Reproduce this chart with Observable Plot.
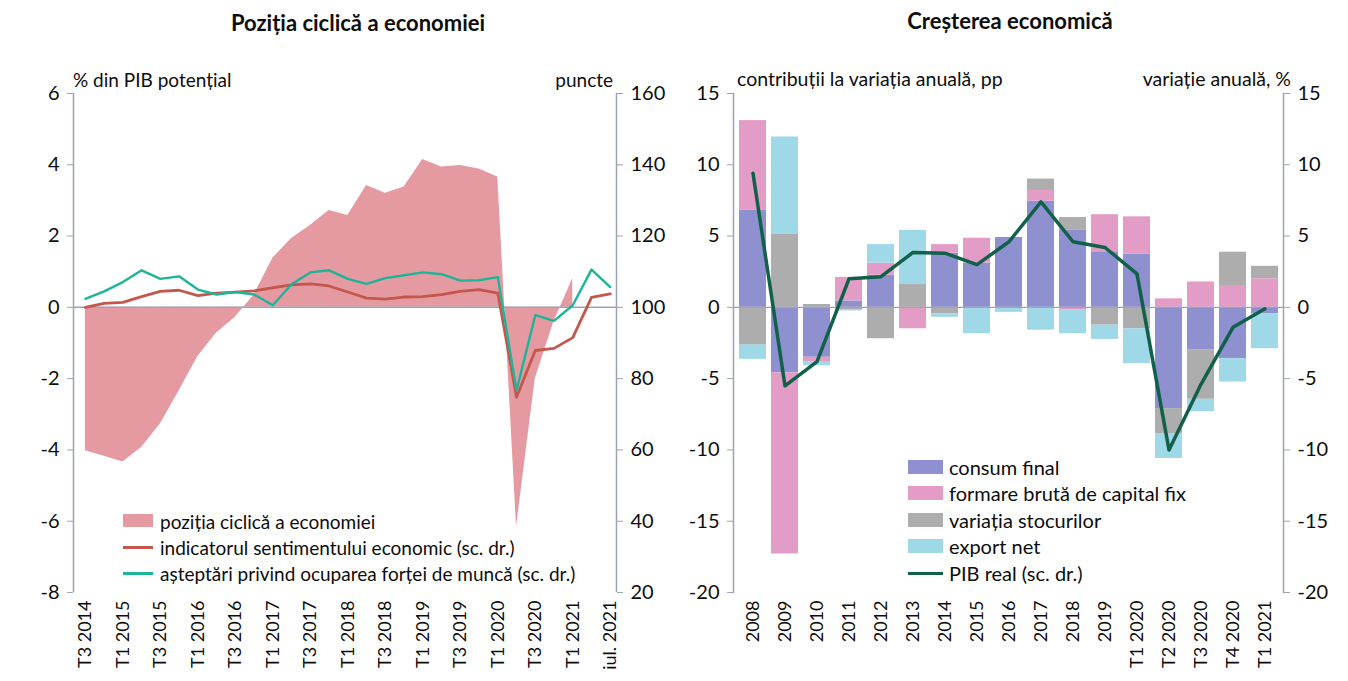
<!DOCTYPE html>
<html>
<head>
<meta charset="utf-8">
<script src="https://cdn.jsdelivr.net/npm/d3@7"></script>
<script src="https://cdn.jsdelivr.net/npm/@observablehq/plot@0.6"></script>
<style>
  body { margin: 0; background: #fff; font-family: Lato, "Open Sans", sans-serif; color: #111; }
  #wrap { position: relative; width: 1348px; height: 681px; overflow: hidden; background: #fff; }
  .abs { position: absolute; white-space: nowrap; line-height: 1; }
  .chart { position: absolute; top: 0; }
  .sw { position: absolute; }
</style>
</head>
<body>
<div id="wrap"></div>
<script>
// ---------- LEFT CHART DATA ----------
// months since July 2014 (T3 2014 = 0)
const leftTickMonths = [0, 6, 12, 18, 24, 30, 36, 42, 48, 54, 60, 66, 72, 78, 84];
const leftTickLabels = ["T3 2014","T1 2015","T3 2015","T1 2016","T3 2016","T1 2017","T3 2017","T1 2018","T3 2018","T1 2019","T3 2019","T1 2020","T3 2020","T1 2021","iul. 2021"];

// pozitia ciclica a economiei (% din PIB potential)
const gapMonths = [0, 3, 6, 9, 12, 15, 18, 21, 24, 27, 30, 33, 36, 39, 42, 45, 48, 51, 54, 57, 60, 63, 66, 69, 72, 75, 78];
const gapValues = [-4.02, -4.18, -4.34, -3.93, -3.27, -2.35, -1.38, -0.72, -0.28, 0.35, 1.38, 1.93, 2.3, 2.72, 2.58, 3.42, 3.2, 3.38, 4.15, 3.94, 3.98, 3.88, 3.66, -6.16, -2.0, -0.4, 0.8];

// lines on the right scale (puncte)
const lineMonths = [0, 3, 6, 9, 12, 15, 18, 21, 24, 27, 30, 33, 36, 39, 42, 45, 48, 51, 54, 57, 60, 63, 66, 69, 72, 75, 78, 81, 84];
const esiValues = [100.0, 101.1, 101.4, 103.0, 104.5, 104.8, 103.3, 104.0, 104.3, 104.6, 105.5, 106.3, 106.6, 106.0, 104.3, 102.6, 102.3, 102.9, 103.0, 103.6, 104.5, 105.0, 104.0, 74.8, 87.9, 88.5, 91.5, 102.8, 103.8];
const employmentValues = [102.4, 104.5, 107.1, 110.4, 108.0, 108.7, 105.0, 103.6, 104.3, 103.6, 100.6, 106.5, 109.8, 110.4, 108.0, 106.6, 108.2, 109.0, 109.8, 109.3, 107.5, 107.6, 108.5, 76.7, 97.8, 96.2, 100.6, 110.6, 105.7];

const leftYTicks = [-8, -6, -4, -2, 0, 2, 4, 6];

// ---------- RIGHT CHART DATA ----------
const categories = ["2008","2009","2010","2011","2012","2013","2014","2015","2016","2017","2018","2019","T1 2020","T2 2020","T3 2020","T4 2020","T1 2021"];
const seriesNames = ["consum final", "formare brută de capital fix", "variația stocurilor", "export net"];
const consumFinal = [6.8, -4.6, -3.5, 0.45, 2.25, 0.0, 3.8, 3.1, 4.9, 7.45, 5.4, 3.9, 3.75, -7.1, -3.0, -3.6, -0.45];
const formareBruta = [6.3, -12.7, -0.3, 1.65, 0.85, -1.5, 0.6, 1.75, 0.0, 0.75, -0.2, 2.6, 2.6, 0.6, 1.78, 1.47, 2.0];
const variatiaStocurilor = [-2.65, 5.15, 0.2, -0.2, -2.2, 1.6, -0.45, -0.05, -0.05, 0.8, 0.9, -1.25, -1.5, -1.75, -3.45, 2.4, 0.88];
const exportNet = [-1.0, 6.8, -0.3, -0.05, 1.3, 3.8, -0.25, -1.8, -0.3, -1.6, -1.65, -1.0, -2.45, -1.75, -0.87, -1.64, -2.45];
const pibReal = [9.4, -5.5, -3.8, 2.0, 2.15, 3.85, 3.8, 3.0, 4.6, 7.4, 4.6, 4.2, 2.35, -10.0, -5.4, -1.4, -0.1];
const rightYTicks = [-20, -15, -10, -5, 0, 5, 10, 15];

// ---------- STYLES ----------
const C = {
  area: "#e59aa2", esi: "#c4574c", emp: "#1db597",
  consum: "#8f90cf", formare: "#e39cc6", stoc: "#adadad", export: "#9fd8e7",
  pib: "#10604a", axis: "#9ba4b6", text: "#0d0d0d"
};
const FONT = "Lato, 'Open Sans', sans-serif";
const TICK_FS = 20;

const wrap = document.getElementById("wrap");

function label(text, x, y, opts = {}) {
  const d = document.createElement("div");
  d.className = "abs";
  d.textContent = text;
  d.style.left = x + "px";
  d.style.top = y + "px";
  d.style.fontSize = (opts.size || 17) + "px";
  d.style.fontWeight = opts.weight || "normal";
  d.style.color = C.text;
  const ax = opts.anchor === "middle" ? "-50%" : opts.anchor === "end" ? "-100%" : "0";
  d.style.transform = `translate(${ax}, -50%)`;
  wrap.appendChild(d);
  return d;
}
function swatch(x, y, w, h, color) {
  const d = document.createElement("div");
  d.className = "sw";
  d.style.left = x + "px"; d.style.top = y + "px";
  d.style.width = w + "px"; d.style.height = h + "px";
  d.style.background = color;
  wrap.appendChild(d);
}
const fmt = d => String(d);

// ---------- LEFT PLOT ----------
const gapData = gapMonths.map((m, i) => ({m, v: gapValues[i]}));
const esiData = lineMonths.map((m, i) => ({m, v: esiValues[i]}));
const empData = lineMonths.map((m, i) => ({m, v: employmentValues[i]}));
const toLeft = v => (v - 100) / 10;
const xDomL = [-1.9, 85];
const tickLabelMap = new Map(leftTickMonths.map((m, i) => [m, leftTickLabels[i]]));

const left = Plot.plot({
  width: 680, height: 681,
  marginLeft: 73, marginRight: 64, marginTop: 93, marginBottom: 89,
  style: {fontFamily: FONT, fontSize: "18px", background: "transparent", color: C.text},
  x: {domain: xDomL, axis: null},
  y: {domain: [-8, 6], axis: null},
  marks: [
    Plot.areaY(gapData, {x: "m", y: "v", fill: C.area, curve: "linear"}),
    Plot.ruleY([0], {stroke: C.axis, strokeWidth: 1.5}),
    Plot.lineY(esiData, {x: "m", y: d => toLeft(d.v), stroke: C.esi, strokeWidth: 2.8}),
    Plot.lineY(empData, {x: "m", y: d => toLeft(d.v), stroke: C.emp, strokeWidth: 2.4}),
    Plot.ruleX([xDomL[0], xDomL[1]], {stroke: C.axis, strokeWidth: 1.5}),
    Plot.axisY({anchor: "left", ticks: leftYTicks, tickFormat: fmt, tickSize: 6, tickPadding: 8, stroke: C.axis, fill: C.text, fontSize: TICK_FS, label: null}),
    Plot.axisY({anchor: "right", ticks: leftYTicks, tickFormat: d => String(100 + d * 10), tickSize: 6, tickPadding: 8, stroke: C.axis, fill: C.text, fontSize: TICK_FS, label: null}),
    Plot.axisX({ticks: leftTickMonths, tickFormat: d => tickLabelMap.get(d), tickRotate: -90, tickSize: 0, tickPadding: 8, fill: C.text, fontSize: 18, label: null})
  ]
});
left.classList.add("chart");
left.style.left = "0px";
wrap.appendChild(left);

// ---------- RIGHT PLOT ----------
const seriesValues = [consumFinal, formareBruta, variatiaStocurilor, exportNet];
const rows = [];
seriesNames.forEach((s, si) => categories.forEach((c, i) => rows.push({cat: c, series: s, value: seriesValues[si][i]})));
const pibData = categories.map((c, i) => ({cat: c, v: pibReal[i]}));

const right = Plot.plot({
  width: 688, height: 681,
  marginLeft: 73, marginRight: 65, marginTop: 93, marginBottom: 89,
  style: {fontFamily: FONT, fontSize: "18px", background: "transparent", color: C.text},
  x: {domain: categories, paddingInner: 0.16, paddingOuter: 0.17, axis: null},
  y: {domain: [-20, 15], axis: null},
  color: {domain: seriesNames, range: [C.consum, C.formare, C.stoc, C.export]},
  marks: [
    Plot.barY(rows, {x: "cat", y: "value", fill: "series", z: "series", order: seriesNames}),
    Plot.ruleY([0], {stroke: C.axis, strokeWidth: 1.3}),
    Plot.lineY(pibData, {x: "cat", y: "v", stroke: C.pib, strokeWidth: 3.5}),
    Plot.frame({anchor: "left", stroke: C.axis, strokeWidth: 1.5}),
    Plot.frame({anchor: "right", stroke: C.axis, strokeWidth: 1.5}),
    Plot.axisY({anchor: "left", ticks: rightYTicks, tickFormat: fmt, tickSize: 6, tickPadding: 8, stroke: C.axis, fill: C.text, fontSize: TICK_FS, label: null}),
    Plot.axisY({anchor: "right", ticks: rightYTicks, tickFormat: fmt, tickSize: 6, tickPadding: 8, stroke: C.axis, fill: C.text, fontSize: TICK_FS, label: null}),
    Plot.axisX({tickRotate: -90, tickSize: 0, tickPadding: 8, fill: C.text, fontSize: 18, label: null})
  ]
});
right.classList.add("chart");
right.style.left = "660px";
wrap.appendChild(right);

// ---------- TEXTS ----------
label("Poziția ciclică a economiei", 358, 23, {anchor: "middle", size: 22, weight: "bold"});
label("Creșterea economică", 1010, 21, {anchor: "middle", size: 22, weight: "bold"});
label("% din PIB potențial", 73, 79, {size: 19});
label("puncte", 613, 79, {anchor: "end", size: 19});
label("contribuții  la variația anuală, pp", 737, 79, {size: 19.5});
label("variație anuală, %", 1291, 79, {anchor: "end", size: 19.5});

// left legend
const lx = 123, ltx = 160;
swatch(lx, 514, 30, 13, C.area); label("poziția ciclică a economiei", ltx, 521, {size: 19});
swatch(lx, 545.5, 30, 3, C.esi); label("indicatorul sentimentului economic (sc. dr.)", ltx, 547, {size: 19});
swatch(lx, 572, 30, 2.5, C.emp); label("așteptări privind ocuparea forței de muncă (sc. dr.)", ltx, 573, {size: 19});

// right legend
const rx = 908, rtx = 949;
const legColors = [C.consum, C.formare, C.stoc, C.export];
const legY = [467, 493, 520, 546];
seriesNames.forEach((s, i) => { swatch(rx, legY[i] - 7, 35, 14, legColors[i]); label(s, rtx, legY[i], {size: 20}); });
swatch(rx, 571.5, 35, 3.5, C.pib); label("PIB real (sc. dr.)", rtx, 573, {size: 20});
</script>
</body>
</html>
